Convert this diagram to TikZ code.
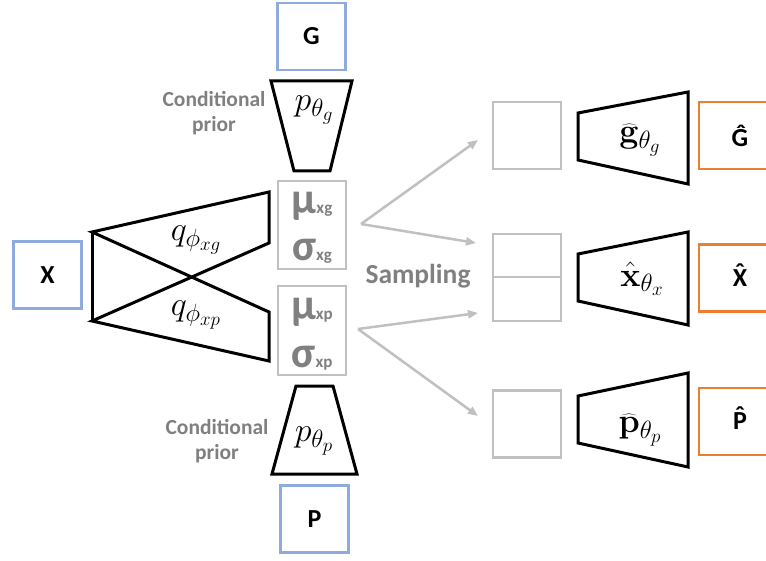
\RequirePackage{fix-cm}
\documentclass[tikz,border=0pt]{standalone}
\usepackage[no-math]{fontspec}
\setmainfont{Carlito}
\usetikzlibrary{arrows.meta}
\DeclareMathSizes{34}{34}{25}{19}
\definecolor{inblue}{HTML}{8FAADC}
\definecolor{outorange}{HTML}{ED7D31}
\definecolor{zgrey}{HTML}{C0C0C0}
\definecolor{tgrey}{HTML}{808080}
% capital letter with a circumflex set above it
\newcommand\caphat[1]{{\ooalign{#1\cr\hidewidth\raisebox{0.2em}{\char"02C6}\hidewidth\cr}}}
\tikzset{
  inbox/.style={draw=inblue, line width=2.6pt, inner sep=0pt, minimum width=68pt, minimum height=67pt,
    font=\fontsize{26}{26}\selectfont\bfseries},
  outbox/.style={draw=outorange, line width=2.8pt, inner sep=0pt, minimum width=82pt, minimum height=67pt,
    text width=68pt, align=center, font=\fontsize{26}{26}\selectfont\bfseries},
  latbox/.style={draw=zgrey, line width=2.5pt, inner sep=0pt, minimum width=68pt},
  zbox/.style={draw=zgrey, line width=2.5pt, inner sep=0pt, minimum width=68pt, minimum height=67pt},
  net/.style={draw=black, line width=3pt, line join=miter},
  netlabel/.style={font=\fontsize{34}{34}\selectfont},
  greytext/.style={text=tgrey, font=\fontsize{21.5}{25}\selectfont\bfseries, align=center},
  greek/.style={text=tgrey, anchor=base, inner sep=0pt,
    font=\fontsize{44}{44}\selectfont\bfseries},
  samplearrow/.style={draw=zgrey, line width=2.5pt, -{Triangle[length=10pt,width=8pt]}}
}
\newcommand\subsz{\fontsize{17}{17}\selectfont}
\begin{document}
\begin{tikzpicture}[x=1pt,y=-1pt]
\clip (0,0) rectangle (766,561);
\fill[white] (0,0) rectangle (766,561);

% inputs
\node[inbox] (G) at (311.5,36.5) {G};
\node[inbox] (X) at (47.5,275) {X};
\node[inbox] (P) at (314.5,519) {P};

% conditional priors
\draw[net] (271,81) -- (352,81) -- (330,171) -- (294,171) -- cycle;
\node[netlabel] (pg) at (314,110) {$p_{\theta_g}$};
\draw[net] (296,386) -- (333,386) -- (357,474) -- (272,474) -- cycle;
\node[netlabel] (pp) at (314,441) {$p_{\theta_p}$};
\node[greytext] (cpg) at (214,113) {Conditional\\prior};
\node[greytext] (cpp) at (217,441) {Conditional\\prior};

% crossed encoders
\draw[net] (92,232) -- (92,321);
\draw[net] (92,232) -- (269,192) -- (269,243) -- (92,321) -- (269,361) -- (269,312) -- cycle;
\node[netlabel] (qg) at (196,240) {$q_{\phi_{xg}}$};
\node[netlabel] (qp) at (196,315) {$q_{\phi_{xp}}$};

% latent parameters
\node[latbox, minimum height=88pt] (lg) at (312,225) {};
\node[latbox, minimum height=89pt] (lp) at (312,330.5) {};
\node[greek] (mug) at (312,214) {μ\subsz xg};
\node[greek] (sg) at (312,261) {σ\subsz xg};
\node[greek] (mup) at (312,320) {μ\subsz xp};
\node[greek] (sp) at (312,367) {σ\subsz xp};

% sampling
\coordinate (f1) at (361,224);
\coordinate (f2) at (358,329);
\coordinate (t1) at (478,140);
\coordinate (t2) at (476,243);
\coordinate (t3) at (478,313);
\coordinate (t4) at (478,416);
\draw[samplearrow] (f1) -- (t1);
\draw[samplearrow] (f1) -- (t2);
\draw[samplearrow] (f2) -- (t3);
\draw[samplearrow] (f2) -- (t4);
\node[text=tgrey, font=\fontsize{27.5}{27.5}\selectfont\bfseries] (smp) at (418,276) {Sampling};

% sampled codes
\node[zbox] (z1) at (527,135.5) {};
\node[zbox, minimum height=87pt] (z2) at (527,277.5) {};
\draw[draw=zgrey, line width=2.5pt] (z2.west |- 0,277) -- (z2.east |- 0,277);
\node[zbox] (z3) at (527,424) {};

% decoders
\draw[net] (578,113) -- (688,92) -- (688,184) -- (578,160) -- cycle;
\node[netlabel] (dg) at (640,140) {$\widehat{\mathbf{g}}_{\theta_g}$};
\draw[net] (578,254) -- (688,232) -- (688,325) -- (578,301) -- cycle;
\node[netlabel] (dx) at (642,279) {$\hat{\mathbf{x}}_{\theta_x}$};
\draw[net] (578,396) -- (688,373) -- (688,467) -- (578,443) -- cycle;
\node[netlabel] (dp) at (640,430) {$\widehat{\mathbf{p}}_{\theta_p}$};

% reconstructions
\node[outbox] (oG) at (740,135.5) {Ĝ};
\node[outbox] (oX) at (740,278) {\caphat{X}};
\node[outbox] (oP) at (740,421.5) {\caphat{P}};
\end{tikzpicture}
\end{document}
